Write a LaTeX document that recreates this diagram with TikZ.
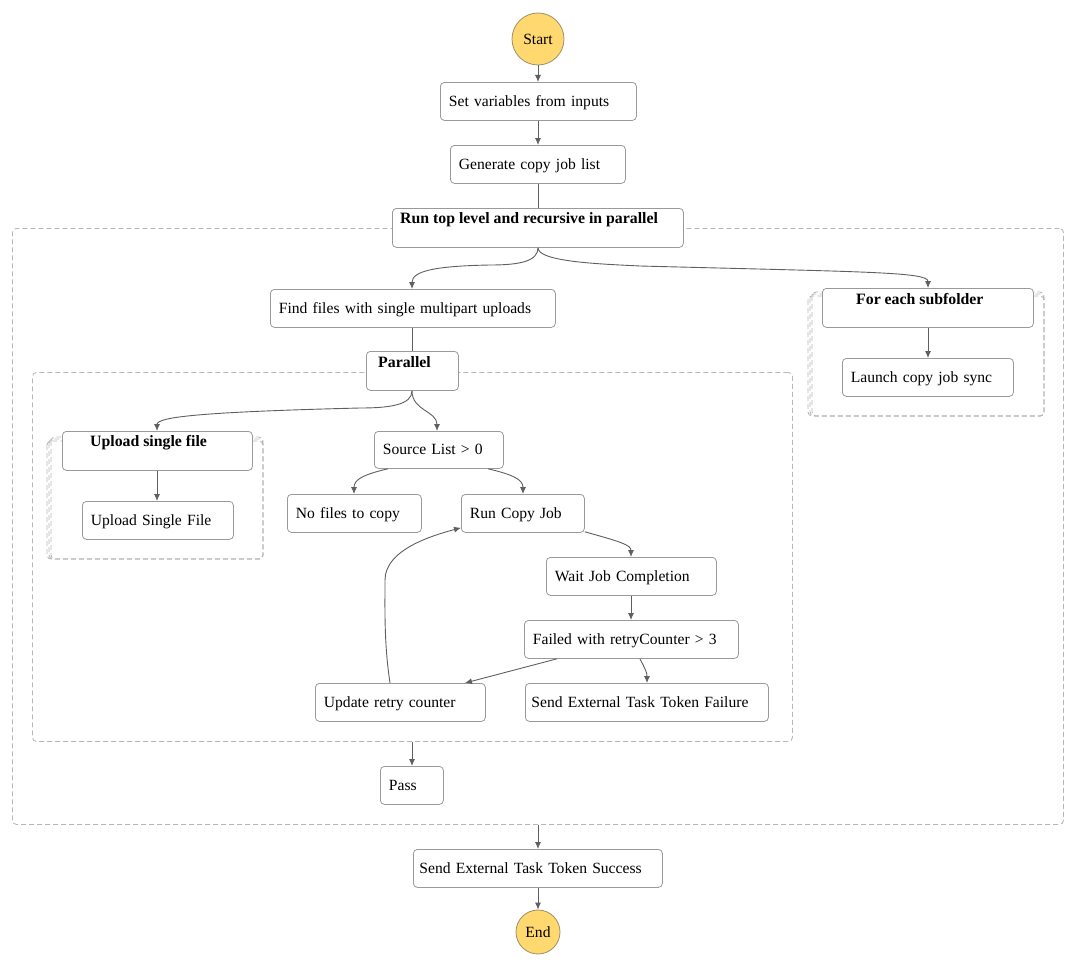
\documentclass[tikz,border=0pt]{standalone}
\usepackage{fontspec}
\setmainfont{Liberation Serif}
\usetikzlibrary{arrows.meta}
\definecolor{edgegray}{HTML}{5F5F5F}
\definecolor{boxgray}{HTML}{9A9A9A}
\definecolor{dashgray}{HTML}{B8B8B8}
\definecolor{termfill}{HTML}{FFD970}
\definecolor{termline}{HTML}{9C8F6A}
\begin{document}
\begin{tikzpicture}[x=1pt,y=-1pt,
  font=\fontsize{15.6}{18}\selectfont,
  statebox/.style={draw=boxgray, fill=white, rounded corners=4pt, line width=0.8pt,
    anchor=north west, align=left, inner xsep=8.5pt, inner ysep=0pt,
    text height=12pt, text depth=2pt},
  headbox/.style={draw=boxgray, fill=white, rounded corners=4pt, line width=0.8pt,
    anchor=north west, inner sep=0pt},
  headtext/.style={anchor=base west, inner sep=0pt, font=\fontsize{15.8}{18}\selectfont\bfseries},
  term/.style={circle, draw=termline, fill=termfill, line width=0.8pt, inner sep=0pt},
  container/.style={draw=dashgray, dashed, dash pattern=on 5pt off 3pt, rounded corners=4pt,
    line width=0.9pt, anchor=north west, inner sep=0pt},
  flow/.style={draw=edgegray, line width=0.9pt, -{Latex[length=7pt,width=6pt]}},
  link/.style={draw=edgegray, line width=0.9pt}
]
\useasboundingbox (0,0) rectangle (1076,966);

% group frames
\node[container, minimum width=1051pt, minimum height=596pt] (outer) at (12,228) {};
\node[container, minimum width=760pt, minimum height=369pt] (inner) at (32,372) {};

% stacked frames of the two map states
\foreach \k in {0,1,2}{
  \draw[container] (808+2*\k, 296-2*\k) rectangle (1044, 416);
  \draw[container] (47+2*\k, 441-2*\k) rectangle (263, 559);
}

% terminals
\node[term, minimum size=52pt] (start) at (538,39) {Start};
\node[term, minimum size=44pt] (end) at (538,932) {End};

% main sequence
\node[statebox, text width=179pt, minimum height=38pt] (setvars) at (440,82) {Set variables from inputs};
\node[statebox, text width=158pt, minimum height=38pt] (genlist) at (450,145) {Generate copy job list};

% top-level parallel state
\node[headbox, minimum width=291pt, minimum height=39pt] (runpar) at (392,208) {};
\node[headtext] (runpartitle) at (400,223) {Run top level and recursive in parallel};

\node[statebox, text width=268pt, minimum height=38pt] (findfiles) at (270,289) {Find files with single multipart uploads};

% map: for each subfolder
\node[headbox, minimum width=211pt, minimum height=39pt] (foreach) at (822,288) {};
\node[headtext] (foreachtitle) at (856,304) {For each subfolder};
\node[statebox, text width=154pt, minimum height=38pt] (launch) at (842,358) {Launch copy job sync};

% nested parallel state
\node[headbox, minimum width=92pt, minimum height=39pt] (parallel) at (366,351) {};
\node[headtext] (paralleltitle) at (378,367) {Parallel};

% map: upload single file
\node[headbox, minimum width=190pt, minimum height=39pt] (upmap) at (62,431) {};
\node[headtext] (upmaptitle) at (90,446) {Upload single file};
\node[statebox, text width=134pt, minimum height=38pt] (upfile) at (82,501) {Upload Single File};

% copy job branch
\node[statebox, text width=112pt, minimum height=37pt] (srclist) at (374,431) {Source List > 0};
\node[statebox, text width=117pt, minimum height=38pt] (nofiles) at (287,494) {No files to copy};
\node[statebox, text width=106pt, minimum height=38pt] (runjob) at (461,494) {Run Copy Job};
\node[statebox, text width=153pt, minimum height=38pt] (waitjob) at (546,557) {Wait Job Completion};
\node[statebox, text width=197pt, minimum height=38pt] (failed) at (524,620) {Failed with retryCounter > 3};
\node[statebox, text width=153pt, minimum height=38pt] (retry) at (315,683) {Update retry counter};
\node[statebox, minimum height=38pt, inner xsep=6pt, text width=231pt] (sendfail) at (525,683) {Send External Task Token Failure};

\node[statebox, text width=46pt, minimum height=38pt] (pass) at (380,766) {Pass};
\node[statebox, text width=237pt, minimum height=38pt, inner xsep=6pt] (sendok) at (413,849) {Send External Task Token Success};

% transitions
\draw[flow] (start.south) -- ([xshift=98pt]setvars.north west);
\draw[flow] ([xshift=98pt]setvars.south west) -- ([xshift=88pt]genlist.north west);
\draw[link] ([xshift=88pt]genlist.south west) -- ([xshift=146pt]runpar.north west);

\draw[flow] ([xshift=146pt]runpar.south west) .. controls +(0,14) and +(28,0) .. (490,265)
  .. controls +(-55,1) and +(0,-18) .. ([xshift=142pt]findfiles.north west);
\draw[flow] ([xshift=146pt]runpar.south west) .. controls +(0,14) and +(-40,-2) .. (640,266)
  .. controls +(230,6) and +(0,-16) .. ([xshift=106pt]foreach.north west);

\draw[flow] ([xshift=106pt]foreach.south west) -- ([xshift=86pt]launch.north west);

\draw[link] ([xshift=142pt]findfiles.south west) -- ([xshift=46pt]parallel.north west);

\draw[flow] ([xshift=46pt]parallel.south west) .. controls +(0,14) and +(30,0) .. (360,408)
  .. controls +(-160,4) and +(0,-14) .. ([xshift=95pt]upmap.north west);
\draw[flow] ([xshift=46pt]parallel.south west) .. controls +(0,20) and +(0,-20) .. ([xshift=63pt]srclist.north west);

\draw[flow] ([xshift=95pt]upmap.south west) -- ([xshift=75pt]upfile.north west);

\draw[flow] ([xshift=14pt]srclist.south west) .. controls +(-26,6) and +(0,-14) .. ([xshift=67pt]nofiles.north west);
\draw[flow] ([xshift=114pt]srclist.south west) .. controls +(26,6) and +(0,-14) .. ([xshift=62pt]runjob.north west);

\draw[flow] ([yshift=1pt]runjob.south east) .. controls +(36,10) and +(0,-12) .. ([xshift=85pt]waitjob.north west);
\draw[flow] ([xshift=85pt]waitjob.south west) -- ([xshift=107pt]failed.north west);
\draw[flow] ([xshift=33pt]failed.south west) -- ([xshift=150pt]retry.north west);
\draw[flow] ([xshift=116pt]failed.south west) .. controls +(5,10) and +(0,-11) .. ([xshift=122pt]sendfail.north west);

\draw[flow] ([xshift=75pt]retry.north west) .. controls +(-6,-40) and +(0,30) .. (385,580)
  .. controls +(0,-30) and +(-30,8) .. ([yshift=5pt]runjob.south west);

\draw[flow] ([xshift=380pt]inner.south west) -- ([xshift=32pt]pass.north west);
\draw[flow] ([xshift=526pt]outer.south west) -- ([xshift=125pt]sendok.north west);
\draw[flow] ([xshift=125pt]sendok.south west) -- (end.north);
\end{tikzpicture}
\end{document}
